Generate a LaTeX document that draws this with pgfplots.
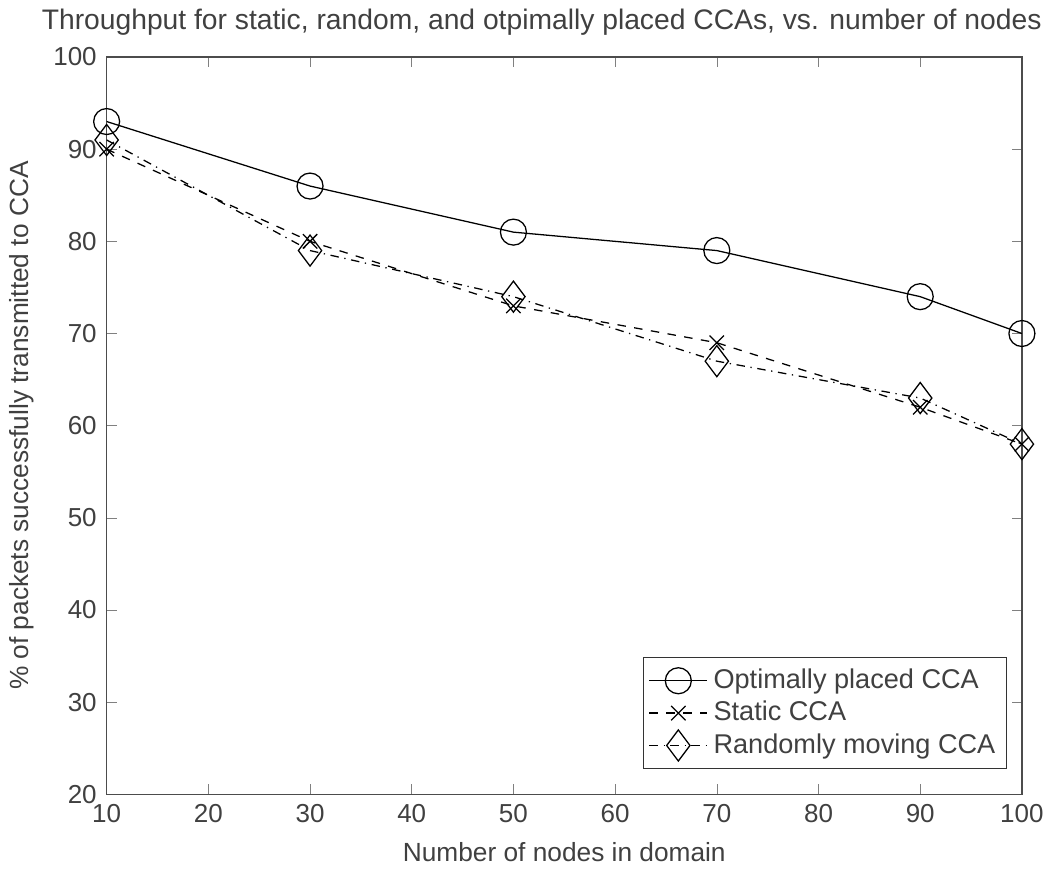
\documentclass[border=0pt]{standalone}
\usepackage{fontspec}
\setmainfont{Liberation Sans}
\usepackage{pgfplots}
\pgfplotsset{compat=1.18}

\begin{document}
\begin{tikzpicture}
\begin{axis}[
  width=324pt, height=261pt,
  scale only axis,
  xmin=10, xmax=100, ymin=20, ymax=100,
  xtick={10,20,...,100}, ytick={20,30,...,100},
  tick align=inside,
  major tick length=3.5pt,
  /pgf/number format/assume math mode=true,
  tick label style={font=\fontsize{9.2}{11}\selectfont, color=black!75},
  label style={font=\fontsize{9.3}{11}\selectfont, color=black!75},
  title style={font=\fontsize{10}{12}\selectfont, color=black!75, xshift=-8pt, yshift=-2pt},
  title={Throughput for static, random, and otpimally placed CCAs, vs. number of nodes},
  xlabel={Number of nodes in domain},
  ylabel={\% of packets successfully transmitted to CCA},
  axis line style={black!70, line width=0.6pt},
  legend cell align=left,
  legend image code/.code={\draw[mark repeat=2,mark phase=2] plot coordinates {(0cm,0cm) (0.36cm,0cm) (0.72cm,0cm)};},
  legend style={at={(0.984,0.034)}, anchor=south east, draw=black!80,
    font=\fontsize{9.6}{11}\selectfont, text=black!75, row sep=-1pt,
    inner sep=2pt},
]
\addplot[black, line width=0.45pt, mark=o, mark size=4.6pt, mark options={solid}]
  coordinates {(10,93) (30,86) (50,81) (70,79) (90,74) (100,70)};
\addlegendentry{Optimally placed CCA}
\addplot[black, line width=0.45pt, dashed, mark=x, mark size=3.6pt, mark options={solid}]
  coordinates {(10,90) (30,80) (50,73) (70,69) (90,62) (100,58)};
\addlegendentry{Static CCA}
\addplot[black, line width=0.45pt, dash dot, mark=diamond, mark size=5.5pt, mark options={solid}]
  coordinates {(10,91) (30,79) (50,74) (70,67) (90,63) (100,58)};
\addlegendentry{Randomly moving CCA}
\end{axis}
\end{tikzpicture}
\end{document}
